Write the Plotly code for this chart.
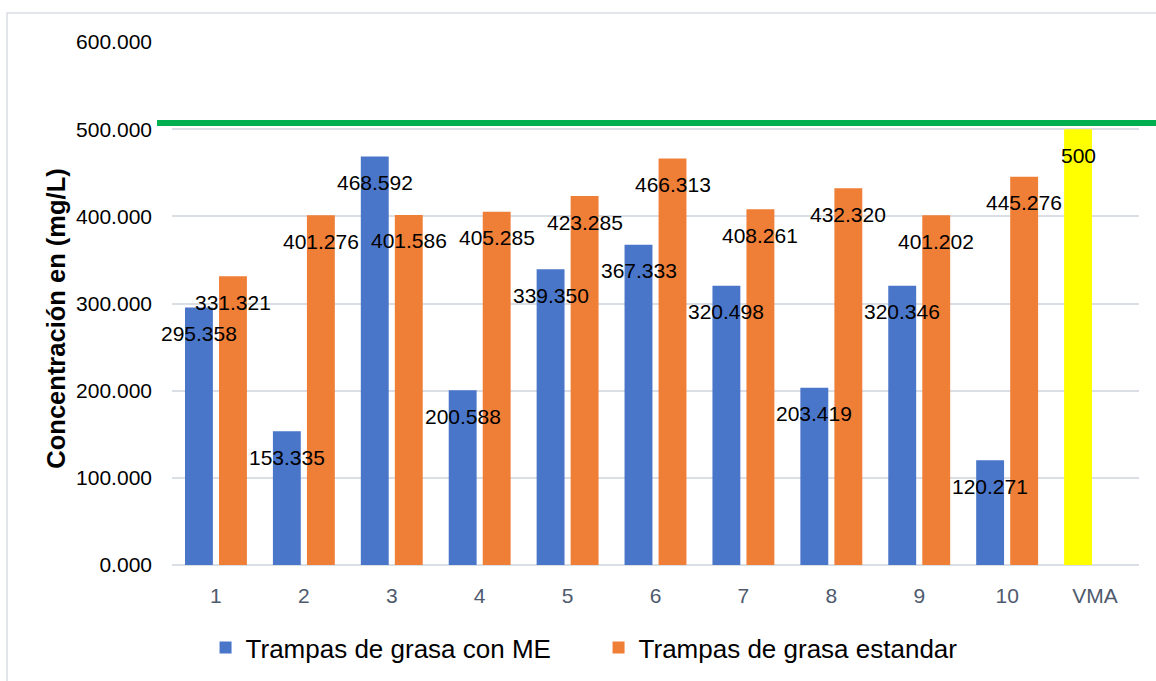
import plotly.graph_objects as go

# Sample number of each grease trap, plus the reference limit (VMA)
categories = ["1", "2", "3", "4", "5", "6", "7", "8", "9", "10", "VMA"]
trap_labels = categories[:10]

# Concentration (mg/L) per trap type
con_me = [295.358, 153.335, 468.592, 200.588, 339.350, 367.333, 320.498, 203.419, 320.346, 120.271]
estandar = [331.321, 401.276, 401.586, 405.285, 423.285, 466.313, 408.261, 432.320, 401.202, 445.276]

# Maximum admissible value
vma_label = ["VMA"]
vma_value = [500]
vma_line_level = 507

y_ticks = [0, 100, 200, 300, 400, 500, 600]

FONT = "Liberation Sans, Arial, sans-serif"
BLUE = "#4A76CA"
ORANGE = "#EF7E37"
YELLOW = "#FFFF00"
GREEN = "#00B050"
GRID = "#DADEE5"

fig = go.Figure()

fig.add_trace(go.Bar(
    name="Trampas de grasa con ME", x=trap_labels, y=con_me,
    marker=dict(color=BLUE, line=dict(width=0)), offsetgroup="a",
))
fig.add_trace(go.Bar(
    name="Trampas de grasa estandar", x=trap_labels, y=estandar,
    marker=dict(color=ORANGE, line=dict(width=0)), offsetgroup="b",
))
fig.add_trace(go.Bar(
    name="VMA", x=vma_label, y=vma_value, showlegend=False,
    marker=dict(color=YELLOW, line=dict(width=0)), offsetgroup="a",
))

# Value labels, centred on each bar just below its top
annotations = []
def add_labels(xs, ys, shift, fmt):
    for xv, yv in zip(xs, ys):
        annotations.append(dict(
            x=categories.index(xv), y=yv, xref="x", yref="y", text=fmt(yv), showarrow=False,
            xshift=shift, yshift=-26, yanchor="middle", xanchor="center",
            font=dict(family=FONT, size=21, color="#000000"),
        ))

add_labels(trap_labels, con_me, -17, lambda v: f"{v:.3f}")
add_labels(trap_labels, estandar, 17, lambda v: f"{v:.3f}")
add_labels(vma_label, vma_value, -17, lambda v: f"{v:g}")

# Axis title
annotations.append(dict(
    x=-0.12, y=0.471, xref="paper", yref="paper", text="<b>Concentración en (mg/L)</b>",
    textangle=-90, showarrow=False, xanchor="center", yanchor="middle",
    font=dict(family=FONT, size=25.5, color="#000000"),
))

shapes = [
    # chart border
    dict(type="rect", xref="paper", yref="paper", x0=-0.1706, x1=1.03, y0=-0.26, y1=1.0554,
         line=dict(color="#D9DDE3", width=1.5), fillcolor="rgba(0,0,0,0)", layer="below"),
    # limit line
    dict(type="line", xref="paper", yref="y", x0=-0.0155, x1=1.03,
         y0=vma_line_level, y1=vma_line_level, line=dict(color=GREEN, width=6), layer="above"),
]

fig.update_layout(
    width=1156, height=681,
    margin=dict(l=172, r=17, t=42, b=116, autoexpand=False),
    paper_bgcolor="white", plot_bgcolor="white",
    barmode="group", bargap=0.226, bargroupgap=0.18,
    font=dict(family=FONT, size=21, color="#000000"),
    showlegend=True,
    legend=dict(
        orientation="h", x=0.0347, xanchor="left", y=-0.158, yanchor="middle",
        font=dict(family=FONT, size=26, color="#000000"),
        bgcolor="rgba(0,0,0,0)",
        entrywidth=348, entrywidthmode="pixels",
    ),
    annotations=annotations,
    shapes=shapes,
)

fig.update_xaxes(
    type="category", categoryorder="array", categoryarray=categories,
    range=[-0.5, len(categories) - 0.5],
    showgrid=False, showline=False, ticks="",
    tickfont=dict(family=FONT, size=21, color="#4E5A6E"),
    ticklabelstandoff=16,
)
fig.update_yaxes(
    range=[0, 600], tickvals=y_ticks, tickformat=".3f",
    showgrid=True, gridcolor=GRID, gridwidth=1.5,
    zeroline=True, zerolinecolor=GRID, zerolinewidth=1.5,
    showline=False, ticks="",
    tickfont=dict(family=FONT, size=21, color="#000000"),
    ticklabelstandoff=19,
)

fig.write_html("out.html")
